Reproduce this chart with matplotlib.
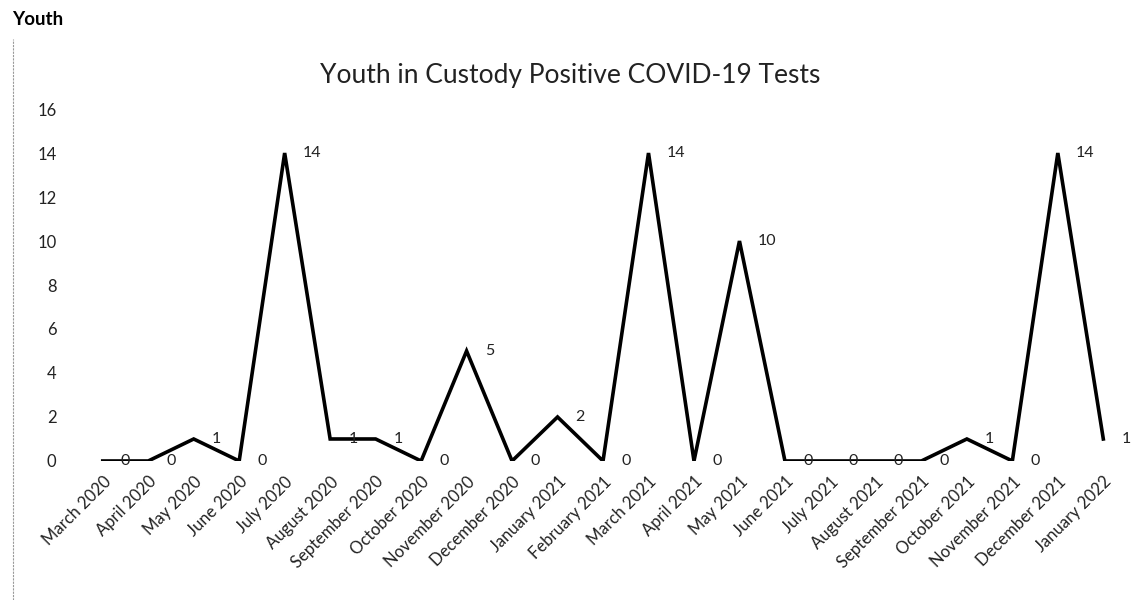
import matplotlib.pyplot as plt

months = ["March 2020", "April 2020", "May 2020", "June 2020", "July 2020",
          "August 2020", "September 2020", "October 2020", "November 2020",
          "December 2020", "January 2021", "February 2021", "March 2021",
          "April 2021", "May 2021", "June 2021", "July 2021", "August 2021",
          "September 2021", "October 2021", "November 2021", "December 2021",
          "January 2022"]
cases = [0, 0, 1, 0, 14, 1, 1, 0, 5, 0, 2, 0, 14, 0, 10, 0, 0, 0, 0, 1, 0, 14, 1]

plt.rcParams['font.family'] = ['Lato', 'DejaVu Sans']

fig = plt.figure(figsize=(11.38, 6), dpi=100)
ax = fig.add_axes([0.0703, 0.2317, 0.9192, 0.5866])

x = list(range(len(months)))
ax.plot(x, cases, color='black', linewidth=2.6, solid_joinstyle='miter')

# data labels to the right of each point
for xi, v in zip(x, cases):
    ax.annotate(str(v), (xi, v), xytext=(13, 0), textcoords='offset points',
                ha='left', va='center', fontsize=11.5, color='#222222')

ax.set_xlim(-0.5, len(months) - 0.5)
ax.set_ylim(0, 16)
ax.set_yticks(range(0, 17, 2))
ax.set_xticks(x)
ax.set_xticklabels(months, rotation=45, ha='right', rotation_mode='anchor',
                   fontsize=12)
ax.tick_params(axis='both', length=0, colors='#222222')
ax.tick_params(axis='y', pad=17, labelsize=12)
ax.tick_params(axis='x', pad=9)
for s in ax.spines.values():
    s.set_visible(False)

fig.text(0.501, 0.875, "Youth in Custody Positive COVID-19 Tests",
         ha='center', va='center', fontsize=19, color='#222222')
fig.text(0.011, 0.968, "Youth", ha='left', va='center', fontsize=13.5,
         fontweight='bold', color='black')

# faint frame line on the left edge
fig.add_artist(plt.Line2D([0.0115, 0.0115], [0.0, 0.935], color='#999999',
                          linewidth=0.8, linestyle=(0, (2, 1))))

fig.savefig('out.png', dpi=100)
